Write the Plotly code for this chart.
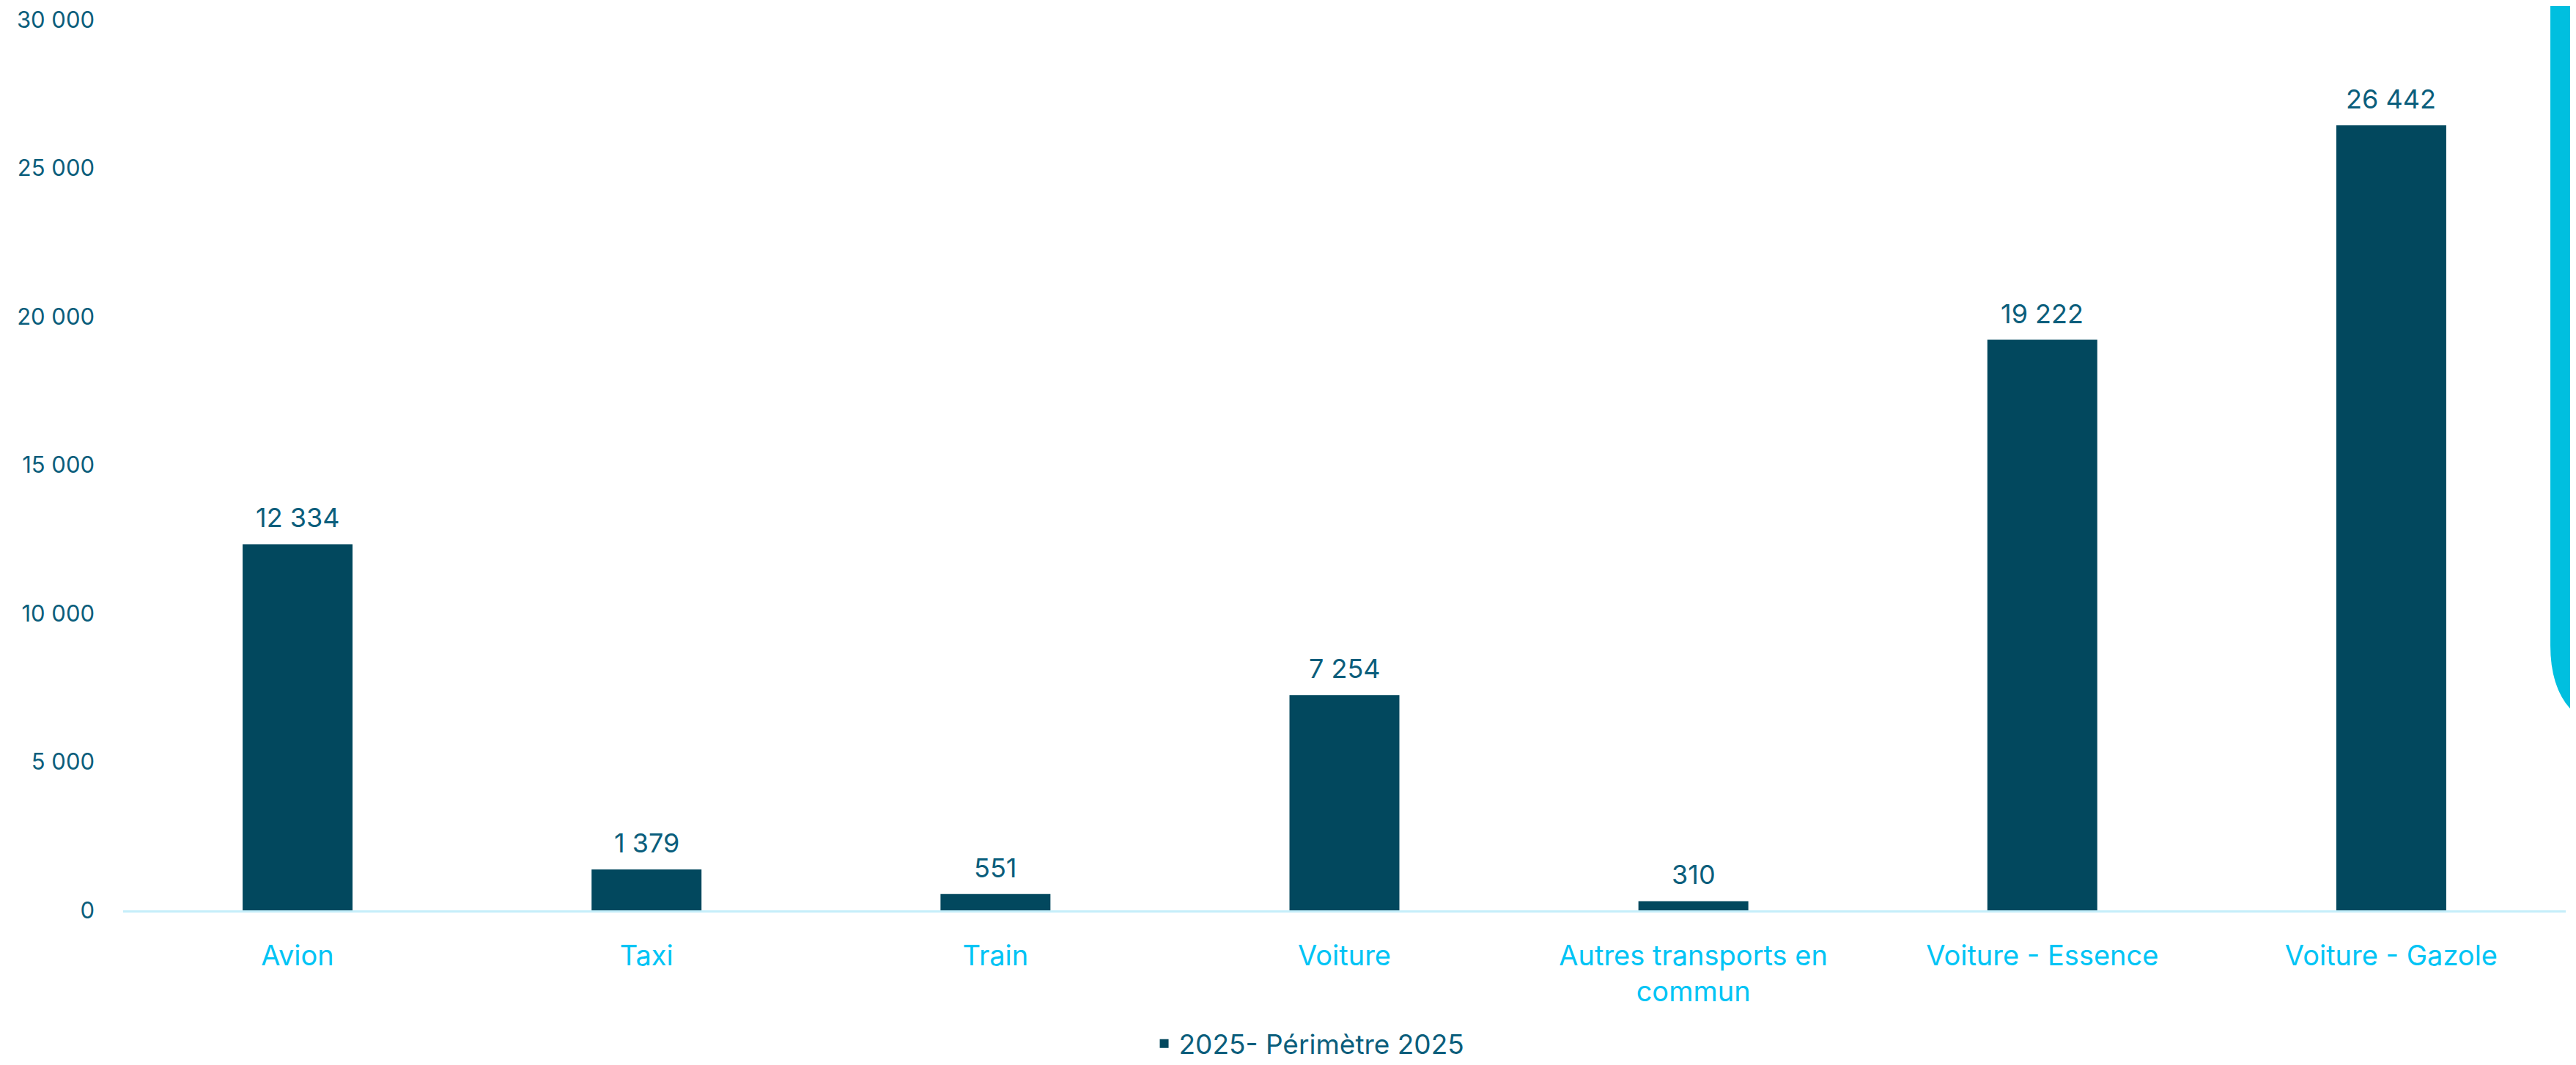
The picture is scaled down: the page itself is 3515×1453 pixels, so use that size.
import plotly.graph_objects as go

# Data
categories = ["Avion", "Taxi", "Train", "Voiture", "Autres transports en<br>commun",
              "Voiture - Essence", "Voiture - Gazole"]
values_2025 = [12334, 1379, 551, 7254, 310, 19222, 26442]
series_name = "2025- Périmètre 2025"
y_ticks = [0, 5000, 10000, 15000, 20000, 25000, 30000]

# page body has an 8px margin, so the figure is a bit smaller than the window
OFF = 8
W, H = 3507, 1445
M = dict(l=160, r=14, t=19, b=211)

BAR = "#02485e"
DARK_TXT = "#0b5e7c"
CYAN_TXT = "#00c4f5"
FONT = "Inter, Lato, sans-serif"


def px_x(x):
    return (x - OFF - M["l"]) / (W - M["l"] - M["r"])


def px_y(y):
    return (H - M["b"] - (y - OFF)) / (H - M["t"] - M["b"])


fig = go.Figure()

fig.add_trace(go.Bar(
    x=categories,
    y=values_2025,
    name=series_name,
    marker=dict(color=BAR, line=dict(width=0)),
    showlegend=True,
))

# value labels above the bars
for cat, val in zip(categories, values_2025):
    fig.add_annotation(
        x=cat, y=val, xref="x", yref="y",
        text=f"{val:,}".replace(",", " "),
        showarrow=False, yanchor="bottom", yshift=12,
        font=dict(size=36, color=DARK_TXT, family=FONT),
    )

# cyan decoration at the right edge
path = "M {x0},{yt} L {x0},{yc} Q {x0},{yb} {x1},{yb} L {x1},{yt} Z".format(
    x0=px_x(3480), x1=px_x(3600), yt=px_y(-10), yc=px_y(880), yb=px_y(1000))
fig.add_shape(type="path", path=path, xref="paper", yref="paper",
              fillcolor="#00bfdf", line=dict(width=0), layer="below")

fig.update_layout(
    width=W,
    height=H,
    margin=dict(M, autoexpand=False),
    plot_bgcolor="white",
    paper_bgcolor="white",
    separators=", ",
    bargap=0.685,
    font=dict(family=FONT, size=36, color=DARK_TXT),
    showlegend=True,
    legend=dict(
        orientation="h",
        xref="container", yref="container",
        x=0.507, xanchor="center",
        y=0.02, yanchor="middle",
        font=dict(size=37, color=DARK_TXT, family=FONT),
        bgcolor="rgba(0,0,0,0)",
    ),
    xaxis=dict(
        automargin=False,
        showgrid=False,
        showline=True,
        linecolor="#c5eefa",
        linewidth=3,
        ticks="",
        tickfont=dict(size=38, color=CYAN_TXT, family=FONT),
        ticklabelstandoff=26,
        range=[-0.5, 6.5],
    ),
    yaxis=dict(
        automargin=False,
        range=[0, 30000],
        tickvals=y_ticks,
        tickformat=",",
        showgrid=False,
        zeroline=False,
        showline=False,
        ticks="",
        ticklabeloverflow="allow",
        tickfont=dict(size=31, color=DARK_TXT, family=FONT),
        ticklabelstandoff=38,
    ),
)

fig.write_html("out.html")
